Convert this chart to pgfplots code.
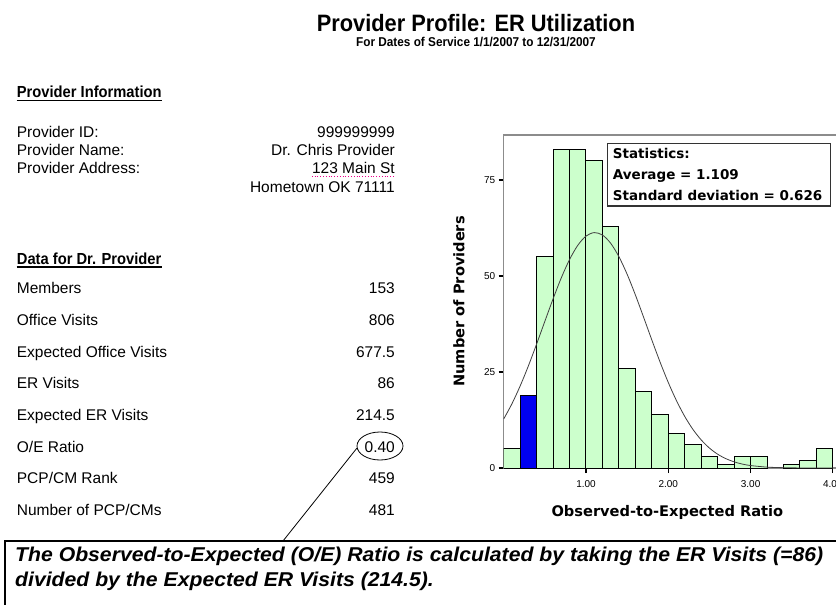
\documentclass[border=0pt]{standalone}
\usepackage{fontspec}
\usepackage{pgfplots}
\pgfplotsset{compat=1.18}
\setmainfont{Liberation Sans}
\newfontfamily\narrowfont{Liberation Sans}[FakeStretch=0.92]
\newfontfamily\notefont{Liberation Sans}[FakeStretch=1.06]
\newfontfamily\chartfont{DejaVu Sans}
\definecolor{barfill}{RGB}{204,255,204}
\definecolor{barblue}{RGB}{0,0,240}
\definecolor{framegray}{RGB}{140,140,140}

\begin{document}
\begin{tikzpicture}
\path[use as bounding box] (0pt,0pt) rectangle (836pt,-605pt);
\clip (0pt,0pt) rectangle (836pt,-605pt);
\fill[white] (0pt,0pt) rectangle (836pt,-605pt);

% histogram
\begin{axis}[
  at={(503.7pt,-468pt)}, anchor=south west,
  scale only axis, width=362.1pt, height=333pt,
  xmin=0, xmax=4.4, ymin=0, ymax=86.7,
  xtick={1,2,3,4}, xticklabels={1.00,2.00,3.00,4.00},
  ytick={0,25,50,75},
  tick pos=left, tick align=outside,
  major tick length=5pt,
  every tick/.style={black, line width=1.2pt},
  axis line style={framegray, line width=1.2pt},
  /pgf/number format/assume math mode=true,
  ticklabel style={font=\fontsize{10}{12}\selectfont},
  xticklabel style={yshift=-4pt},
  xlabel={Observed-to-Expected Ratio},
  ylabel={Number of Providers},
  label style={font=\chartfont\bfseries\fontsize{14.6}{17}\selectfont},
  xlabel style={at={(axis description cs:0.452,0)}, anchor=center, yshift=-44.7pt},
  ylabel style={at={(axis description cs:0,0.5)}, anchor=center, yshift=44.7pt},
]
\addplot[ybar, bar shift=0pt, bar width=0.2, fill=barfill, draw=black, line width=1pt]
coordinates {
  (0.1,5) (0.5,55) (0.7,83) (0.9,83) (1.1,80) (1.3,63) (1.5,26) (1.7,20)
  (1.9,14) (2.1,9) (2.3,6) (2.5,3) (2.7,1) (2.9,3) (3.1,3) (3.5,1) (3.7,2) (3.9,5)
};
\addplot[ybar, bar shift=0pt, bar width=0.2, fill=barblue, draw=black, line width=1pt]
coordinates {(0.3,19)};
% fitted normal curve, mean 1.109, sd 0.626
\addplot[smooth, draw=black!75, line width=0.8pt]
coordinates {
  (0,12.76) (0.1,16.72) (0.2,21.36) (0.3,26.59) (0.4,32.28) (0.5,38.19)
  (0.6,44.04) (0.7,49.52) (0.8,54.27) (0.9,57.98) (1.0,60.38) (1.1,61.29)
  (1.2,60.66) (1.3,58.51) (1.4,55.02) (1.5,50.44) (1.6,45.07) (1.7,39.26)
  (1.8,33.33) (1.9,27.59) (2.0,22.26) (2.1,17.51) (2.2,13.42) (2.3,10.03)
  (2.4,7.31) (2.5,5.19) (2.6,3.59) (2.7,2.43) (2.8,1.60) (2.9,1.02)
  (3.0,0.64) (3.2,0.23) (3.4,0.08) (3.6,0.02) (4.0,0)
};
\end{axis}

\begin{scope}[x=1pt,y=-1pt,every node/.style={inner sep=0pt}]
% header
\node[anchor=base] at (476,31) {\narrowfont\bfseries\fontsize{23.7}{28}\selectfont Provider Profile: ER Utilization};
\node[anchor=base] at (476,46.5) {\narrowfont\bfseries\fontsize{12.8}{15}\selectfont For Dates of Service 1/1/2007 to 12/31/2007};

% provider block
\node[anchor=base west] (h1) at (16.7,97.5) {\narrowfont\bfseries\fontsize{16}{19}\selectfont Provider Information};
\draw[line width=1.2pt] ([yshift=-3pt]h1.base west) -- ([yshift=-3pt]h1.base east);
\begin{scope}[every node/.append style={font=\fontsize{15.5}{18}\selectfont}]
\node[anchor=base west] at (16.7,137) {Provider ID:};
\node[anchor=base west] at (16.7,155.3) {Provider Name:};
\node[anchor=base west] at (16.7,173.6) {Provider Address:};
\node[anchor=base east] at (395,137) {999999999};
\node[anchor=base east] at (395,155.3) {Dr. Chris Provider};
\node[anchor=base east] (addr) at (395,173.6) {123 Main St};
\node[anchor=base east] at (395,192) {Hometown OK 71111};
\end{scope}
\draw[magenta, dotted, line width=0.8pt] ([yshift=-2.5pt]addr.base west) -- ([yshift=-2.5pt]addr.base east);

% data block
\node[anchor=base west] (h2) at (16.7,264) {\narrowfont\bfseries\fontsize{16}{19}\selectfont Data for Dr. Provider};
\draw[line width=1.2pt] ([yshift=-3pt]h2.base west) -- ([yshift=-3pt]h2.base east);
\begin{scope}[every node/.append style={font=\fontsize{15.5}{18}\selectfont}]
\node[anchor=base west] at (16.7,293.6) {Members};
\node[anchor=base west] at (16.7,325.3) {Office Visits};
\node[anchor=base west] at (16.7,357) {Expected Office Visits};
\node[anchor=base west] at (16.7,388.7) {ER Visits};
\node[anchor=base west] at (16.7,420.4) {Expected ER Visits};
\node[anchor=base west] at (16.7,452.1) {O/E Ratio};
\node[anchor=base west] at (16.7,483.8) {PCP/CM Rank};
\node[anchor=base west] at (16.7,515.5) {Number of PCP/CMs};
\node[anchor=base east] at (395,293.6) {153};
\node[anchor=base east] at (395,325.3) {806};
\node[anchor=base east] at (395,357) {677.5};
\node[anchor=base east] at (395,388.7) {86};
\node[anchor=base east] at (395,420.4) {214.5};
\node[anchor=base east] at (395,452.1) {0.40};
\node[anchor=base east] at (395,483.8) {459};
\node[anchor=base east] at (395,515.5) {481};
\end{scope}
\draw[line width=0.8pt] (380,446) ellipse [x radius=23pt, y radius=14pt];
\draw[line width=0.8pt] (357,448) -- (283,541);

% note box
\draw[line width=1.2pt] (5,615) -- (5,541) -- (850,541);
\begin{scope}[every node/.append style={font=\notefont\bfseries\itshape\fontsize{20}{24}\selectfont}]
\node[anchor=base west] at (15,561.7) {The Observed-to-Expected (O/E) Ratio is calculated by taking the ER Visits (=86)};
\node[anchor=base west] at (15,586.7) {divided by the Expected ER Visits (214.5).};
\end{scope}

% statistics box
\draw[line width=1.4pt, draw=black!80, fill=white] (607.3,143.3) rectangle (830.7,206);
\begin{scope}[every node/.append style={font=\chartfont\bfseries\fontsize{13.5}{16}\selectfont}]
\node[anchor=base west] at (612.7,158.5) {Statistics:};
\node[anchor=base west] at (612.7,179.5) {Average = 1.109};
\node[anchor=base west] at (612.7,200) {Standard deviation = 0.626};
\end{scope}
\end{scope}
\end{tikzpicture}
\end{document}
